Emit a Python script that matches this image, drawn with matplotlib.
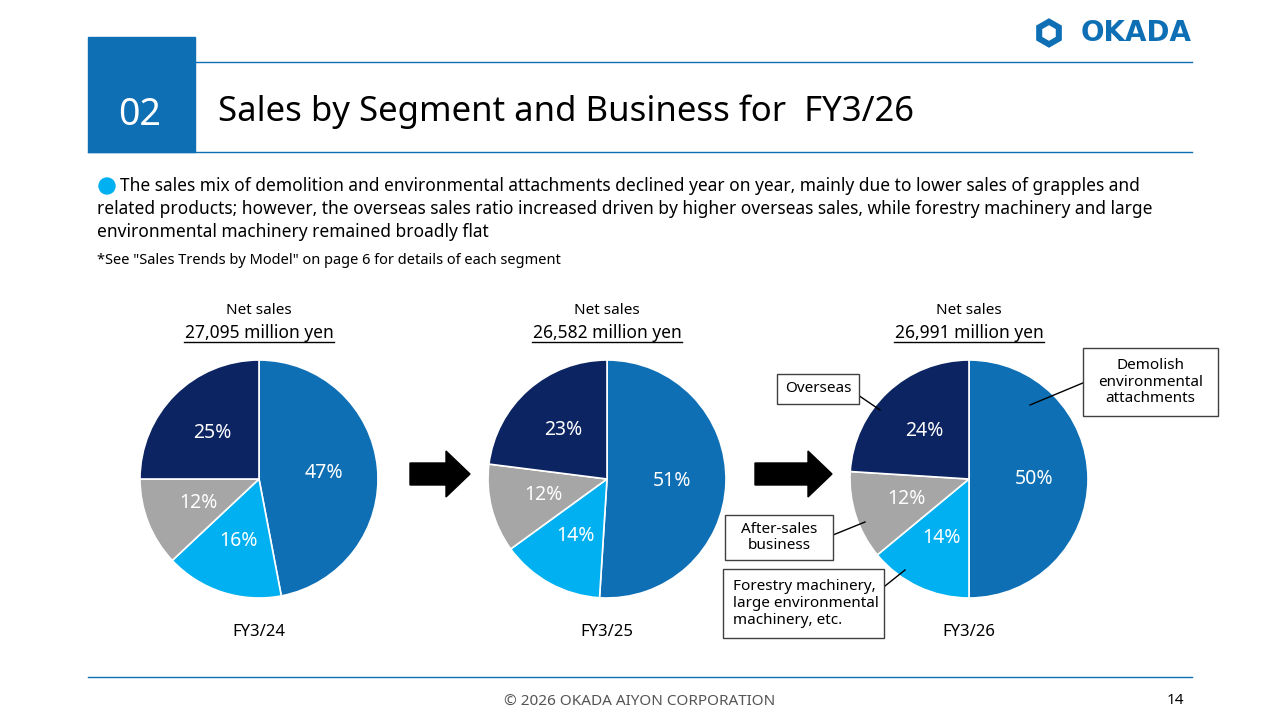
import matplotlib.pyplot as plt
import matplotlib.patches as mpatches

plt.rcParams['font.family'] = ['Noto Sans', 'DejaVu Sans']

# Data
years = ["FY3/24", "FY3/25", "FY3/26"]
net_sales = ["27,095 million yen", "26,582 million yen", "26,991 million yen"]
segments = ["Demolish environmental attachments", "Forestry machinery, etc.",
            "After-sales business", "Overseas"]
shares = [
    [47, 16, 12, 25],
    [51, 14, 12, 23],
    [50, 14, 12, 24],
]
colors = ["#0F6FB5", "#00B0F0", "#A6A6A6", "#0C2461"]

BLUE = "#0F6FB5"
fig = plt.figure(figsize=(12.8, 7.2), dpi=100)

# overlay axes in pixel coordinates
ov = fig.add_axes([0, 0, 1, 1], zorder=0)
ov.set_xlim(0, 1280)
ov.set_ylim(720, 0)
ov.axis("off")

# header
ov.add_patch(mpatches.Rectangle((88, 37), 107, 115, color=BLUE))
ov.text(140, 115, "02", color="white", fontsize=27, ha="center", va="center")
ov.plot([195, 1192], [62, 62], color=BLUE, lw=1)
ov.plot([88, 1192], [152, 152], color=BLUE, lw=1)
ov.text(218, 112, "Sales by Segment and Business for  FY3/26", fontsize=25,
        va="center", ha="left")
ov.text(1192, 33, "OKADA", fontsize=20, fontweight="bold", color=BLUE,
        ha="right", va="center", family="DejaVu Sans")
ov.add_patch(mpatches.RegularPolygon((1049, 33), 6, radius=14, color=BLUE))
ov.add_patch(mpatches.RegularPolygon((1049, 33), 6, radius=7, color="white"))

# body text
ov.add_patch(mpatches.Circle((107, 186), 8, color="#00B0F0"))
lines = [
    "The sales mix of demolition and environmental attachments declined year on year, mainly due to lower sales of grapples and",
    "related products; however, the overseas sales ratio increased driven by higher overseas sales, while forestry machinery and large",
    "environmental machinery remained broadly flat",
]
ov.text(120, 186, lines[0], fontsize=12.5, va="center")
ov.text(97, 209, lines[1], fontsize=12.5, va="center")
ov.text(97, 232, lines[2], fontsize=12.5, va="center")
ov.text(97, 260, '*See "Sales Trends by Model" on page 6 for details of each segment',
        fontsize=10.5, va="center")

# pies
centers = [259, 607, 969]
r = 119
for cx, yr, ns, vals in zip(centers, years, net_sales, shares):
    ax = fig.add_axes([(cx - r) / 1280, (720 - 479 - r) / 720, 2 * r / 1280, 2 * r / 720])
    ax.pie(vals, colors=colors, startangle=90, counterclock=False,
           autopct="%d%%", pctdistance=0.55,
           wedgeprops=dict(edgecolor="white", linewidth=1.2),
           textprops=dict(color="white", fontsize=14))
    ax.set_aspect("auto")
    ax.set_xlim(-1, 1)
    ax.set_ylim(-1, 1)
    ov.text(cx, 311, "Net sales", fontsize=11, ha="center", va="center")
    ov.text(cx, 333, ns, fontsize=12.5, ha="center", va="center")
    ov.plot([cx - 75, cx + 75], [342, 342], color="black", lw=1)
    ov.text(cx, 632, yr, fontsize=12, ha="center", va="center")

# arrows
for x0, x1 in [(410, 470), (755, 832)]:
    ov.add_patch(mpatches.FancyArrow(x0, 474, x1 - x0, 0, width=22, head_width=46,
                                     head_length=24, length_includes_head=True,
                                     color="black"))

# callouts
boxes = [
    ((1083, 348, 135, 68), "Demolish\nenvironmental\nattachments", (1090, 380), (1030, 405)),
    ((777, 374, 82, 30), "Overseas", (858, 395), (880, 410)),
    ((725, 515, 108, 45), "After-sales\nbusiness", (833, 535), (865, 522)),
    ((723, 569, 161, 69), "Forestry machinery,\nlarge environmental\nmachinery, etc.", (880, 590), (905, 570)),
]
lay = fig.add_axes([0, 0, 1, 1], zorder=5)
lay.set_xlim(0, 1280)
lay.set_ylim(720, 0)
lay.axis("off")
for (x, y, w, h), txt, p0, p1 in boxes:
    lay.add_patch(mpatches.Rectangle((x, y), w, h, facecolor="white",
                                     edgecolor="#404040", lw=1, zorder=3))
    ha = "left" if txt.startswith("Forestry") else "center"
    tx = x + 10 if ha == "left" else x + w / 2
    lay.text(tx, y + h / 2, txt, fontsize=11, ha=ha, va="center",
             linespacing=1.15, zorder=4)
    lay.plot([p0[0], p1[0]], [p0[1], p1[1]], color="black", lw=1)

# footer
ov.plot([88, 1192], [677, 677], color=BLUE, lw=1)
ov.text(640, 702, "© 2026 OKADA AIYON CORPORATION", fontsize=11, color="#555555",
        ha="center", va="center")
ov.text(1175, 700, "14", fontsize=11, ha="center", va="center")

fig.savefig("out.png", dpi=100)
